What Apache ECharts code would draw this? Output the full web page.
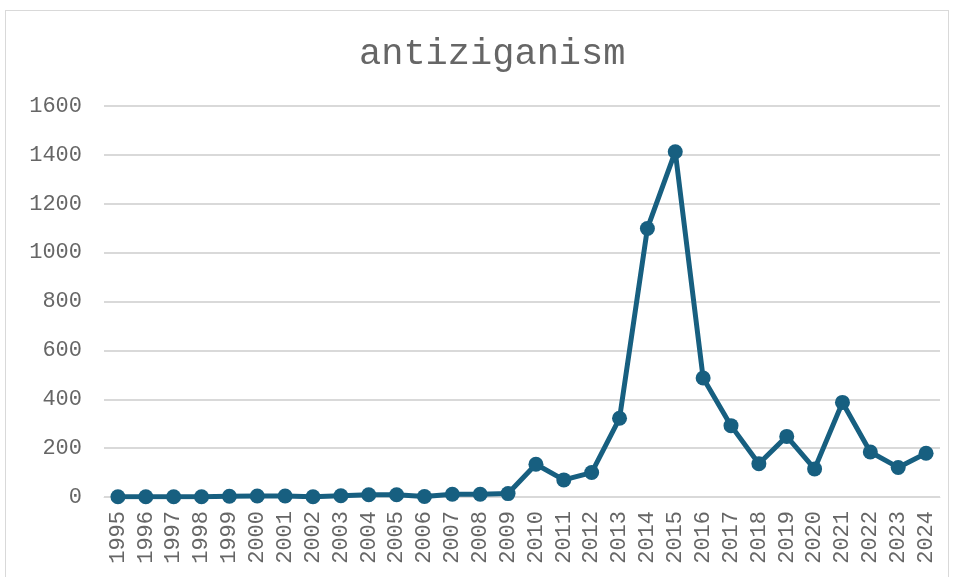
<!DOCTYPE html>
<html>
<head>
<meta charset="utf-8">
<script src="https://cdn.jsdelivr.net/npm/echarts@6/dist/echarts.min.js"></script>
<style>
  html, body { margin: 0; padding: 0; background: #fff; }
  #frame { position: absolute; left: 5px; top: 10px; width: 944px; height: 580px; border: 1px solid #d9d9d9; box-sizing: border-box; }
  #chart { position: absolute; left: 0; top: 0; width: 955px; height: 577px; }
</style>
</head>
<body>
<div id="frame"></div>
<div id="chart"></div>
<script>
// years on the x axis
const years = ['1995', '1996', '1997', '1998', '1999', '2000', '2001', '2002', '2003', '2004',
    '2005', '2006', '2007', '2008', '2009', '2010', '2011', '2012', '2013', '2014',
    '2015', '2016', '2017', '2018', '2019', '2020', '2021', '2022', '2023', '2024'];

// counts
const counts = [1, 1, 1, 1, 3, 4, 4, 1, 5, 9,
    9, 2, 11, 11, 14, 134, 70, 100, 322, 1099,
    1413, 487, 292, 136, 248, 115, 387, 184, 121, 179];

const lineColor = '#175f80';
const textColor = '#666666';
const font = '"Liberation Mono", "Courier New", monospace';

const chart = echarts.init(document.getElementById('chart'));
chart.setOption({
    animation: false,
    title: {
        text: 'antiziganism',
        left: 354,
        top: 31,
        textStyle: { fontFamily: font, fontSize: 37, fontWeight: 'normal', color: textColor }
    },
    grid: { left: 104, right: 15, top: 106, bottom: 80 },
    xAxis: {
        type: 'category',
        data: years,
        axisLine: { show: true, lineStyle: { color: '#d9d9d9', width: 1 } },
        axisTick: { show: false },
        axisLabel: {
            rotate: 90, interval: 0, margin: 14,
            fontFamily: font, fontSize: 22, color: textColor
        }
    },
    yAxis: {
        type: 'value',
        min: 0, max: 1600, interval: 200,
        axisLine: { show: false },
        axisTick: { show: false },
        splitLine: { lineStyle: { color: '#d9d9d9', width: 2 } },
        axisLabel: {
            margin: 22, fontFamily: font, fontSize: 22, color: textColor,
            formatter: v => String(v)
        }
    },
    series: [{
        type: 'line',
        data: counts,
        symbol: 'circle',
        symbolSize: 15,
        lineStyle: { color: lineColor, width: 5 },
        itemStyle: { color: lineColor }
    }]
});
</script>
</body>
</html>
